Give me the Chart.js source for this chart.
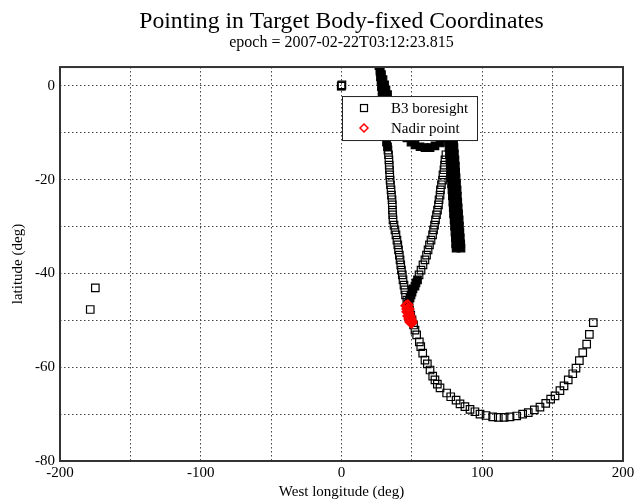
<!DOCTYPE html>
<html>
<head>
<meta charset="utf-8">
<title>Pointing in Target Body-fixed Coordinates</title>
<script src="https://cdn.jsdelivr.net/npm/chart.js@4.4.1/dist/chart.umd.min.js"></script>
<style>
  html, body { margin: 0; padding: 0; background: #fff; }
</style>
</head>
<body>
<canvas id="pointing" width="638" height="503"></canvas>
<script>
// B3 boresight track, sparse samples (open squares)
const boresightLon = [
  -174.9, -178.5, 0, 0.3, -0.2,
  // descending column
  33.0, 33.4, 33.7, 33.9, 34.1, 34.3, 34.5, 34.8, 35.2, 35.5,
  35.9, 36.1, 36.2, 36.4, 36.6, 37.3, 38.0, 38.7, 39.4, 40.0,
  40.5, 41.1, 41.6, 42.1, 42.6, 43.2, 43.7, 44.4, 45.0, 45.5,
  46.4, 47.2, 48.3, 49.2, 50.1, 51.2,
  // southern arc
  52.2, 53.4, 55.3, 56.3, 57.7, 59.3, 61.0, 62.9, 64.8, 66.4,
  68.1, 70.0, 74.7, 77.6, 81.4, 84.2, 87.7, 91.3, 94.8, 98.4,
  102.7, 107.4, 111.4, 115.5, 119.7, 124.5, 128.7, 132.7, 137.0, 141.0,
  145.1, 148.6, 151.7, 155.2, 158.1, 161.1, 164.3, 166.6, 169.0, 171.4,
  174.2, 176.1, 178.9,
  // return leg
  55.1, 56.5, 57.9, 59.3, 60.4, 61.5, 62.5, 63.6, 64.7, 65.4,
  66.1, 66.8, 67.5, 68.2, 68.9, 69.3, 70.0, 70.3, 71.0, 71.8,
  72.1, 72.8, 73.2, 73.5, 74.2
];
const boresightLat = [
  -43.1, -47.7, 0, 0.2, -0.1,
  -13.7, -14.7, -15.8, -16.9, -17.9, -19.0, -20.1, -21.1, -22.2, -23.3,
  -24.3, -25.4, -26.5, -27.5, -28.6, -29.7, -30.7, -31.8, -32.9, -33.9,
  -35.0, -36.1, -37.1, -38.2, -39.3, -40.3, -41.4, -42.5, -43.5, -44.6,
  -45.7, -46.7, -47.8, -48.9, -49.9, -51.0,
  -52.1, -53.1, -54.6, -55.6, -57.0, -58.5, -59.3, -60.6, -61.9, -62.7,
  -63.6, -64.4, -65.5, -66.3, -67.0, -67.8, -68.4, -69.0, -69.5, -70.0,
  -70.3, -70.6, -70.7, -70.7, -70.6, -70.4, -70.0, -69.7, -69.1, -68.5,
  -67.7, -66.8, -66.1, -65.0, -64.0, -62.7, -61.4, -60.2, -58.6, -56.9,
  -55.1, -53.0, -50.5,
  -40.3, -39.3, -38.2, -37.1, -36.1, -35.0, -33.9, -32.9, -31.8, -30.7,
  -29.7, -28.6, -27.5, -26.5, -25.4, -24.3, -23.3, -22.2, -21.1, -20.1,
  -19.0, -17.9, -16.9, -15.8, -14.7
];

// stretches where the boresight samples pile up into solid bands
const denseLon = [
  // top, left track
  26.6, 27.4, 27.7, 28.1, 28.4, 28.8, 29.1, 29.5, 30.2, 30.9, 31.3, 32.0, 32.7,
  // top, right track
  27.4, 28.4, 29.5, 30.6, 31.6, 32.7, 33.7, 36.6, 39.4, 42.3, 44.4,
  // loop
  46.5, 49.4, 52.2, 55.8, 59.3, 62.9, 66.4, 70.0, 72.8, 74.9, 76.0, 76.4,
  // straight band
  74.6, 78.2, 74.9, 78.4, 75.2, 78.7, 75.5, 79.1, 75.8, 79.4, 76.1, 79.6,
  76.4, 79.9, 76.7, 80.2, 77.0, 80.6, 77.3, 80.9, 77.6, 81.1, 77.9, 81.4,
  78.2, 81.7, 78.5, 82.1, 78.8, 82.3, 79.1, 82.6, 79.4, 82.9, 79.6, 83.2,
  80.0, 83.6, 80.3, 83.8, 80.6, 84.1, 80.9, 84.4, 81.1, 84.7, 81.4, 84.9,
  // return leg near the nadir
  47.2, 48.0, 48.7, 49.4, 50.1, 50.8, 52.2, 52.9, 54.0
];
const denseLat = [
  4.3, 3.0, 1.9, 0.9, -0.2, -1.3, -2.4, -4.1, -6.2, -8.3, -10.5, -12.0, -13.0,
  3.4, 2.4, 1.3, 0.2, -0.9, -1.9, -3.4, -5.1, -6.8, -8.5, -10.0,
  -11.1, -12.0, -12.6, -13.0, -13.2, -13.2, -12.8, -12.2, -11.1, -9.6, -7.9, -6.4,
  -5.6, -5.6, -6.8, -6.8, -8.1, -8.1, -9.4, -9.4, -10.7, -10.7, -12.0, -12.0,
  -13.2, -13.2, -14.5, -14.5, -15.8, -15.8, -17.1, -17.1, -18.4, -18.4, -19.6, -19.6,
  -20.9, -20.9, -22.2, -22.2, -23.5, -23.5, -24.8, -24.8, -26.0, -26.0, -27.3, -27.3,
  -28.6, -28.6, -29.9, -29.9, -31.2, -31.2, -32.4, -32.4, -33.7, -33.7, -34.6, -34.6,
  -46.5, -45.9, -45.2, -44.6, -44.0, -43.3, -42.7, -42.0, -41.4
];

// nadir point
const nadirLon = [45.8, 47.2, 46.5, 48.0, 46.5, 48.0, 47.2, 48.7, 48.0, 49.4, 48.7, 50.1, 49.0, 49.8];
const nadirLat = [-46.9, -46.7, -47.6, -47.6, -48.2, -48.4, -49.1, -49.1, -49.7, -49.7, -50.3, -50.3, -50.4, -50.6];

const lonTicks = [-200, -100, 0, 100, 200];
const latTicks = [0, -20, -40, -60, -80];

const serif = "'Liberation Serif', 'DejaVu Serif', serif";
Chart.defaults.font.family = serif;
Chart.defaults.color = '#000';

function toPoints(xs, ys) {
  return xs.map((x, i) => ({ x: x, y: ys[i] }));
}

// box round the plot plus the key in the upper middle
const frameAndKey = {
  id: 'frameAndKey',
  afterDatasetsDraw(chart) {
    const ctx = chart.ctx;
    const a = chart.chartArea;
    ctx.save();
    ctx.strokeStyle = '#333';
    ctx.lineWidth = 2;
    ctx.strokeRect(a.left, a.top, a.right - a.left, a.bottom - a.top);

    const kx = a.left + 282, ky = a.top + 29, kw = 135, kh = 44;
    ctx.fillStyle = '#fff';
    ctx.fillRect(kx, ky, kw, kh);
    ctx.strokeStyle = '#222';
    ctx.lineWidth = 1;
    ctx.strokeRect(kx + 0.5, ky + 0.5, kw, kh);

    ctx.strokeStyle = '#000';
    ctx.lineWidth = 1.2;
    ctx.strokeRect(kx + 18.5, ky + 8.5, 7, 7);
    ctx.strokeStyle = '#ff0000';
    ctx.lineWidth = 1.5;
    ctx.beginPath();
    ctx.moveTo(kx + 22, ky + 28);
    ctx.lineTo(kx + 26, ky + 32);
    ctx.lineTo(kx + 22, ky + 36);
    ctx.lineTo(kx + 18, ky + 32);
    ctx.closePath();
    ctx.stroke();

    ctx.fillStyle = '#000';
    ctx.font = '15px ' + serif;
    ctx.textBaseline = 'alphabetic';
    ctx.fillText('B3 boresight', kx + 49, ky + 17);
    ctx.fillText('Nadir point', kx + 49, ky + 37);
    ctx.restore();
  }
};

const gridStyle = { color: '#444', lineWidth: 1, drawTicks: false };

new Chart(document.getElementById('pointing'), {
  type: 'scatter',
  data: {
    datasets: [
      {
        label: 'Nadir point',
        data: toPoints(nadirLon, nadirLat),
        pointStyle: 'rectRot',
        pointRadius: 4.5,
        borderColor: '#ff0000',
        backgroundColor: 'rgba(0,0,0,0)',
        borderWidth: 2,
        order: 0
      },
      {
        label: 'B3 boresight',
        data: toPoints(boresightLon, boresightLat),
        pointStyle: 'rect',
        pointRadius: 5.3,
        borderColor: '#000',
        backgroundColor: 'rgba(0,0,0,0)',
        borderWidth: 1.2,
        order: 1
      },
      {
        label: 'B3 boresight',
        data: toPoints(denseLon, denseLat),
        pointStyle: 'rect',
        pointRadius: 5.3,
        borderColor: '#000',
        backgroundColor: '#000',
        borderWidth: 1.2,
        order: 2
      }
    ]
  },
  options: {
    responsive: false,
    animation: false,
    events: [],
    layout: { padding: { left: 0, right: 15, top: 0, bottom: 0 } },
    plugins: {
      legend: { display: false },
      tooltip: { enabled: false },
      title: {
        display: true,
        fullSize: false,
        text: 'Pointing in Target Body-fixed Coordinates',
        font: { size: 23.7, weight: 'normal' },
        padding: { top: 8, bottom: -3 }
      },
      subtitle: {
        display: true,
        fullSize: false,
        text: 'epoch = 2007-02-22T03:12:23.815',
        font: { size: 16, weight: 'normal' },
        padding: { top: 0, bottom: 14.4 }
      }
    },
    scales: {
      x: {
        type: 'linear',
        min: -200,
        max: 200,
        ticks: {
          stepSize: 50,
          padding: 3,
          autoSkip: false,
          maxRotation: 0,
          font: { size: 15 },
          callback: v => lonTicks.includes(v) ? String(v) : ''
        },
        grid: gridStyle,
        border: { display: false, dash: [1.5, 2.5] },
        title: {
          display: true,
          text: 'West longitude (deg)',
          font: { size: 15 },
          padding: { top: 0, bottom: 2 }
        },
        afterFit: s => { s.height = 42; }
      },
      y: {
        type: 'linear',
        min: -80,
        max: 4,
        ticks: {
          stepSize: 10,
          padding: 5,
          autoSkip: false,
          font: { size: 15 },
          callback: v => latTicks.includes(v) ? String(v) : ''
        },
        afterBuildTicks: s => { s.ticks = s.ticks.filter(t => t.value % 10 === 0); },
        grid: gridStyle,
        border: { display: false, dash: [1.5, 2.5] },
        title: {
          display: true,
          text: 'latitude (deg)',
          font: { size: 15 },
          padding: { top: 9, bottom: 0 }
        },
        afterFit: s => { s.width = 60; }
      }
    }
  },
  plugins: [frameAndKey]
});
</script>
</body>
</html>
